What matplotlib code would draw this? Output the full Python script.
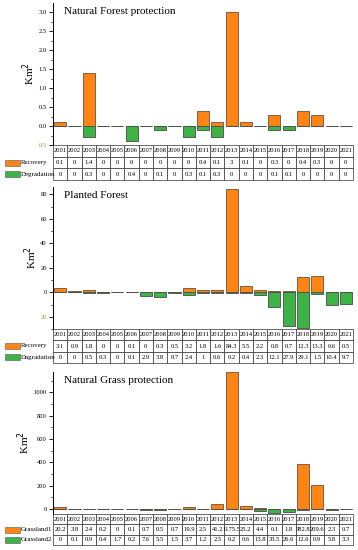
import matplotlib
matplotlib.use("Agg")
import matplotlib.pyplot as plt
from matplotlib.patches import Rectangle
import numpy as np

plt.rcParams['font.family'] = ['Liberation Serif', 'DejaVu Serif']

years = [str(y) for y in range(2001, 2022)]

nf_recovery = [0.1, 0, 1.4, 0, 0, 0, 0, 0, 0, 0, 0.4, 0.1, 3, 0.1, 0, 0.3, 0, 0.4, 0.3, 0, 0]
nf_degradation = [0, 0, 0.3, 0, 0, 0.4, 0, 0.1, 0, 0.3, 0.1, 0.3, 0, 0, 0, 0.1, 0.1, 0, 0, 0, 0]

pf_recovery = [3.1, 0.9, 1.8, 0, 0, 0.1, 0, 0.3, 0.5, 3.2, 1.8, 1.6, 84.3, 5.5, 2.2, 0.8, 0.7, 12.3, 13.3, 0.6, 0.5]
pf_degradation = [0, 0, 0.5, 0.3, 0, 0.1, 2.9, 3.8, 0.7, 2.4, 1, 0.6, 0.2, 0.4, 2.3, 12.1, 27.9, 29.1, 1.5, 10.4, 9.7]

ng_grass1 = [20.2, 3.8, 2.4, 0.2, 0, 0.1, 0.7, 0.5, 0.7, 19.9, 2.5, 41.2, 1175.5, 25.2, 4.4, 0.1, 1.8, 382.8, 209.6, 2.3, 0.7]
ng_grass2 = [0, 0.1, 0.9, 0.4, 1.7, 0.2, 7.6, 5.5, 1.5, 3.7, 1.2, 2.5, 0.2, 0.6, 13.8, 33.5, 26.6, 12.6, 0.9, 5.8, 3.3]

orange = '#ff8414'
green = '#3db346'
W, H = 358, 550

fig = plt.figure(figsize=(W / 100, H / 100), dpi=100)


def fmt(v):
    return f"{v:g}"


def panel(top, bottom, tbl_bottom, pos, neg, labels, title, ylim, ticks, ticklabels, minor, neg_tick):
    left, right = 53, 353
    ax = fig.add_axes([left / W, 1 - bottom / H, (right - left) / W, (bottom - top) / H])
    x = np.arange(len(years))
    ax.bar(x, pos, width=0.85, color=orange, edgecolor='#6a5040', linewidth=0.6)
    ax.bar(x, -np.array(neg), width=0.85, color=green, edgecolor='#4a4a4a', linewidth=0.6)
    ax.set_xlim(-0.5, len(years) - 0.5)
    ax.set_ylim(*ylim)
    ax.set_xticks([])
    ax.set_yticks(ticks)
    ax.set_yticklabels(ticklabels)
    ax.set_yticks(minor, minor=True)
    for t, v in zip(ax.get_yticklabels(), ticks):
        if v == neg_tick:
            t.set_color('#8aa040')
    ax.tick_params(axis='y', which='major', length=3, width=0.6, labelsize=4.7, pad=1.5)
    ax.tick_params(axis='y', which='minor', length=1.8, width=0.5)
    for s in ['top', 'right', 'bottom']:
        ax.spines[s].set_visible(False)
    ax.spines['left'].set_linewidth(0.7)
    ax.set_ylabel('Km$^2$', fontsize=8, labelpad=1)
    ax.text(0.035, 0.975, title, transform=ax.transAxes, fontsize=8, va='top', ha='left')

    h = (tbl_bottom - bottom) / (bottom - top)
    tb = ax.table(cellText=[years, [fmt(v) for v in pos], [fmt(v) for v in neg]],
                  cellLoc='center', bbox=[0, -h, 1, h])
    tb.auto_set_font_size(False)
    tb.set_fontsize(4.7)
    for c in tb.get_celld().values():
        c.set_linewidth(0.5)
        c.set_edgecolor('#333333')
        c.PAD = 0.02

    row_h = (tbl_bottom - bottom) / 3
    for i, (lab, col) in enumerate(labels):
        cy = bottom + row_h * (i + 1.5)
        fig.patches.append(Rectangle((5 / W, 1 - (cy + 3) / H), 15 / W, 6 / H,
                                     transform=fig.transFigure, facecolor=col,
                                     edgecolor='#555555', linewidth=0.4))
        fig.text(21 / W, 1 - cy / H, lab, fontsize=5, va='center', ha='left')
    return ax


panel(3, 145, 180, nf_recovery, nf_degradation,
      [('Recovery', orange), ('Degradation', green)],
      'Natural Forest protection', (-0.5, 3.24),
      [-0.5, 0, 0.5, 1.0, 1.5, 2.0, 2.5, 3.0],
      ['0.5', '0.0', '0.5', '1.0', '1.5', '2.0', '2.5', '3.0'],
      np.arange(-0.25, 3.2, 0.5), -0.5)

panel(187, 329, 363, pf_recovery, pf_degradation,
      [('Recovery', orange), ('Dagradation', green)],
      'Planted Forest', (-30, 86),
      [-20, 0, 20, 40, 60, 80],
      ['20', '0', '20', '40', '60', '80'],
      np.arange(-30, 86, 10), -20)

panel(372, 514, 545, ng_grass1, ng_grass2,
      [('Grassland1', orange), ('Grassland2', green)],
      'Natural Grass protection', (-43, 1175),
      [0, 200, 400, 600, 800, 1000],
      ['0', '200', '400', '600', '800', '1000'],
      np.arange(100, 1175, 200), None)

fig.savefig('out.png', dpi=100)
